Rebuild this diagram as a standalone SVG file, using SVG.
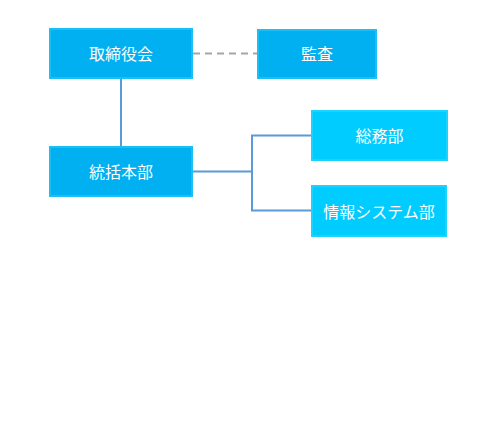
<svg xmlns="http://www.w3.org/2000/svg" width="498" height="442" viewBox="0 0 498 442">
<defs>
<style>
.n1 rect.b{fill:#00b0f0;stroke:#19bff5;stroke-width:2}
.n2 rect.b{fill:#00ccff;stroke:#1ad3ff;stroke-width:2}
text{font-family:"Noto Sans CJK JP","Noto Sans CJK SC",sans-serif;font-size:16px;fill:#ffffff;text-anchor:middle;dominant-baseline:central}
.c{fill:none;stroke:#5b9bd5;stroke-width:2}
.d{fill:none;stroke:#a6a6a6;stroke-width:2;stroke-dasharray:7 5}
</style>
</defs>
<rect width="498" height="442" fill="#ffffff"/>
<g id="connectors">
<line class="d" x1="193" y1="53.5" x2="257" y2="53.5"/>
<line class="c" x1="121" y1="79" x2="121" y2="146"/>
<polyline class="c" points="193,171.5 252,171.5"/>
<polyline class="c" points="311,135.5 252,135.5 252,210.5 311,210.5"/>
</g>
<g id="n-board" class="n1"><rect class="b" x="50" y="29" width="142" height="49"/><text x="121" y="53">取締役会</text></g>
<g id="n-audit" class="n1"><rect class="b" x="258" y="30" width="118" height="48"/><text x="317" y="53">監査</text></g>
<g id="n-hq" class="n1"><rect class="b" x="50" y="147" width="142" height="49"/><text x="121" y="171">統括本部</text></g>
<g id="n-ga" class="n2"><rect class="b" x="312" y="111" width="135" height="49"/><text x="379.5" y="135">総務部</text></g>
<g id="n-is" class="n2"><rect class="b" x="312" y="186" width="134" height="50"/><text x="379" y="210.5">情報システム部</text></g>
</svg>
